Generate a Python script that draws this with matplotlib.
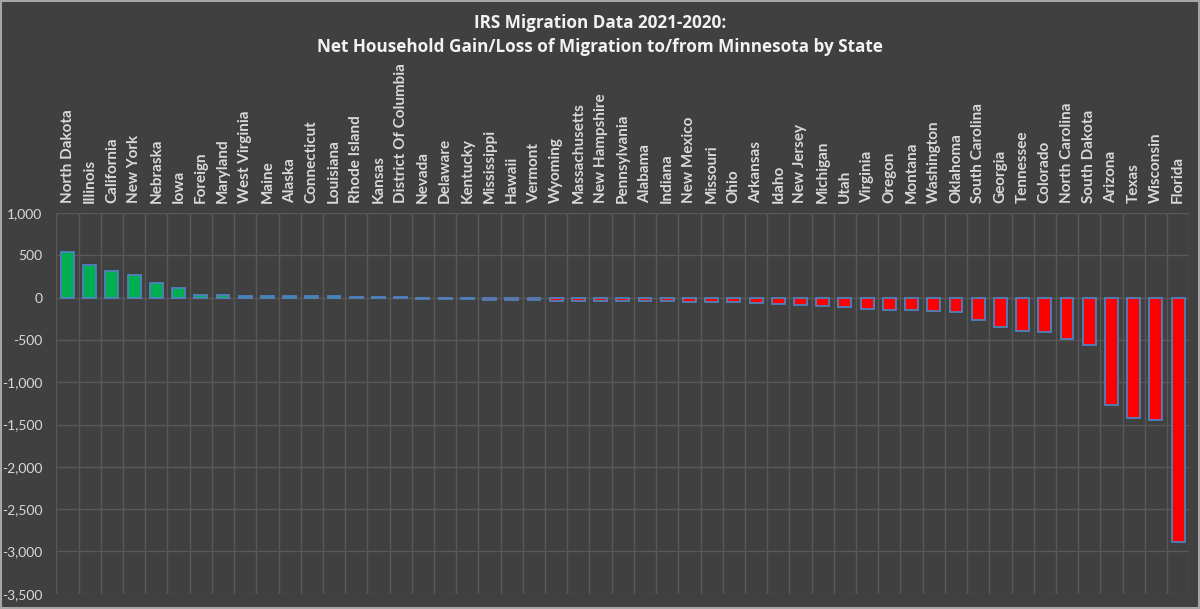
import numpy as np
import matplotlib.pyplot as plt
from matplotlib.ticker import FuncFormatter

states = ["North Dakota", "Illinois", "California", "New York", "Nebraska", "Iowa",
          "Foreign", "Maryland", "West Virginia", "Maine", "Alaska", "Connecticut",
          "Louisiana", "Rhode Island", "Kansas", "District Of Columbia", "Nevada",
          "Delaware", "Kentucky", "Mississippi", "Hawaii", "Vermont", "Wyoming",
          "Massachusetts", "New Hampshire", "Pennsylvania", "Alabama", "Indiana",
          "New Mexico", "Missouri", "Ohio", "Arkansas", "Idaho", "New Jersey",
          "Michigan", "Utah", "Virginia", "Oregon", "Montana", "Washington",
          "Oklahoma", "South Carolina", "Georgia", "Tennessee", "Colorado",
          "North Carolina", "South Dakota", "Arizona", "Texas", "Wisconsin", "Florida"]

net_households = [540, 385, 315, 268, 175, 112,
                  32, 27, 24, 20, 18, 17,
                  15, 12, 10, 7, -12,
                  -18, -20, -22, -28, -30, -35,
                  -37, -38, -40, -42, -44,
                  -46, -48, -52, -62, -70, -88,
                  -100, -108, -138, -140, -148, -162,
                  -172, -268, -345, -395, -402,
                  -483, -555, -1265, -1425, -1450, -2885]

bg = "#404040"
txt = "#d9d9d9"

fig = plt.figure(figsize=(12, 6.09), dpi=100, facecolor=bg)
ax = fig.add_axes([0.047, 0.025, 0.944, 0.625])
ax.set_facecolor(bg)

x = np.arange(len(states))
colors = ["#00b050" if v > 0 else "#ff0000" for v in net_households]
ax.bar(x, net_households, width=0.58, color=colors, edgecolor="#4f81bd",
       linewidth=1.3, zorder=3)

ax.set_xlim(-0.5, len(states) - 0.5)
ax.set_ylim(-3500, 1000)
ax.set_yticks(np.arange(-3500, 1001, 500))
ax.yaxis.set_major_formatter(FuncFormatter(lambda v, p: f"{int(v):,}"))
ax.tick_params(axis="y", length=0, colors=txt, labelsize=10, pad=10)
for lab in ax.get_yticklabels():
    lab.set_fontfamily("Lato")

ax.xaxis.tick_top()
ax.set_xticks(x)
ax.set_xticklabels(states, rotation=90, fontsize=11, fontweight="bold",
                   color=txt, family="Lato")
ax.tick_params(axis="x", length=0, pad=7.5)
ax.set_xticks(np.arange(-0.5, len(states), 1), minor=True)
ax.tick_params(axis="x", which="minor", length=0)

ax.grid(axis="y", which="major", color="#595959", linewidth=1, zorder=0)
ax.grid(axis="x", which="minor", color="#595959", linewidth=1, zorder=0)
for s in ax.spines.values():
    s.set_visible(False)

fig.text(0.5, 1 - 28 / 609, "IRS Migration Data 2021-2020:", ha="center", va="baseline",
         color="#f2f2f2", fontsize=12.3, fontweight="bold", family="Open Sans")
fig.text(0.5, 1 - 52 / 609, "Net Household Gain/Loss of Migration to/from Minnesota by State",
         ha="center", va="baseline", color="#f2f2f2", fontsize=12.3, fontweight="bold",
         family="Open Sans")

fig.patches.append(plt.Rectangle((0.001, 0.001), 0.998, 0.997, transform=fig.transFigure,
                                 fill=False, edgecolor="#a6a6a6", linewidth=1.5))

fig.savefig("out.png", dpi=100, facecolor=bg)
